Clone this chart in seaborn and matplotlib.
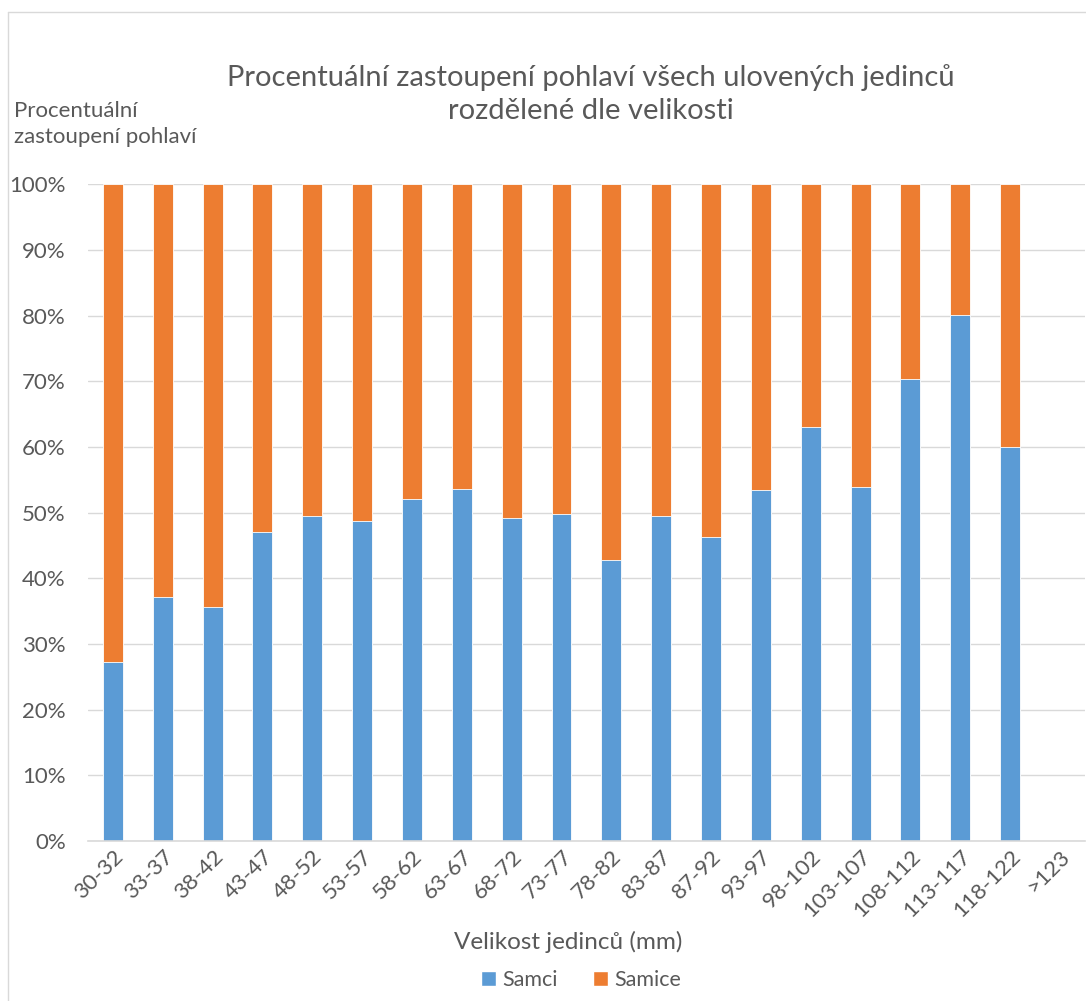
import matplotlib
matplotlib.use("Agg")
import matplotlib.pyplot as plt
import seaborn as sns
import pandas as pd
from matplotlib.patches import Patch
from matplotlib.lines import Line2D
from matplotlib.ticker import FuncFormatter, MultipleLocator

categories = ["30-32", "33-37", "38-42", "43-47", "48-52", "53-57", "58-62", "63-67",
              "68-72", "73-77", "78-82", "83-87", "87-92", "93-97", "98-102", "103-107",
              "108-112", "113-117", "118-122", ">123"]
samci = [27.3, 37.1, 35.6, 47.1, 49.5, 48.7, 52.1, 53.6, 49.2, 49.8, 42.8, 49.5,
         46.2, 53.4, 63.0, 53.9, 70.3, 80.1, 60.0, 0.0]
samice = [100 - v if v > 0 else 0.0 for v in samci]

title = "Procentuální zastoupení pohlaví všech ulovených jedinců\nrozdělené dle velikosti"
ylabel = "Procentuální\nzastoupení pohlaví"
xlabel = "Velikost jedinců (mm)"

BLUE = "#5B9BD5"
ORANGE = "#ED7D31"
TXT = "#595959"
GRID = "#D9D9D9"

sns.set_theme(style="white")
plt.rcParams["font.family"] = ["Lato", "DejaVu Sans"]

df = pd.DataFrame({"cat": categories, "samci": samci,
                   "total": [a + b for a, b in zip(samci, samice)]})

fig = plt.figure(figsize=(10.86, 10.01), dpi=100)
ax = fig.add_axes([0.081, 0.160, 0.918, 0.656])

sns.barplot(data=df, x="cat", y="total", color=ORANGE, saturation=1, width=0.4,
            ax=ax, edgecolor="white", linewidth=0.6, order=categories)
sns.barplot(data=df, x="cat", y="samci", color=BLUE, saturation=1, width=0.4,
            ax=ax, edgecolor="white", linewidth=0.6, order=categories)

ax.set_ylim(0, 100)
ax.set_xlim(-0.5, len(categories) - 0.5)
ax.yaxis.set_major_locator(MultipleLocator(10))
ax.yaxis.set_major_formatter(FuncFormatter(lambda v, p: f"{int(round(v))}%"))
ax.grid(axis="y", color=GRID, linewidth=1)
ax.set_axisbelow(True)
for s in ["top", "right", "left"]:
    ax.spines[s].set_visible(False)
ax.spines["bottom"].set_color(GRID)
ax.spines["bottom"].set_linewidth(1.2)
ax.tick_params(axis="y", length=0, labelsize=16, labelcolor=TXT, pad=16)
ax.tick_params(axis="x", length=0, labelsize=16, labelcolor=TXT, pad=4)
plt.setp(ax.get_xticklabels(), rotation=45, ha="right", rotation_mode="anchor")
ax.set_xlabel("")
ax.set_ylabel("")

fig.text(0.544, 0.906, title, ha="center", va="center", fontsize=21, color=TXT,
         linespacing=1.3)
fig.text(0.013, 0.876, ylabel, ha="left", va="center", fontsize=16, color=TXT,
         linespacing=1.4)
fig.text(0.523, 0.059, xlabel, ha="center", va="center", fontsize=17.5, color=TXT)

handles = [Patch(facecolor=BLUE, label="Samci"), Patch(facecolor=ORANGE, label="Samice")]
leg = fig.legend(handles=handles, loc="center", bbox_to_anchor=(0.535, 0.021), ncol=2,
                 frameon=False, fontsize=15.5, handlelength=0.7, handleheight=0.7,
                 handletextpad=0.3, columnspacing=1.6)
for t in leg.get_texts():
    t.set_color(TXT)

# chart-area border
fig.add_artist(Line2D([0.0074, 0.0074], [0.0, 0.988], transform=fig.transFigure,
                      color=GRID, linewidth=1))
fig.add_artist(Line2D([0.0074, 1.0], [0.988, 0.988], transform=fig.transFigure,
                      color=GRID, linewidth=1))

fig.savefig("out.png", dpi=100, facecolor="white")
